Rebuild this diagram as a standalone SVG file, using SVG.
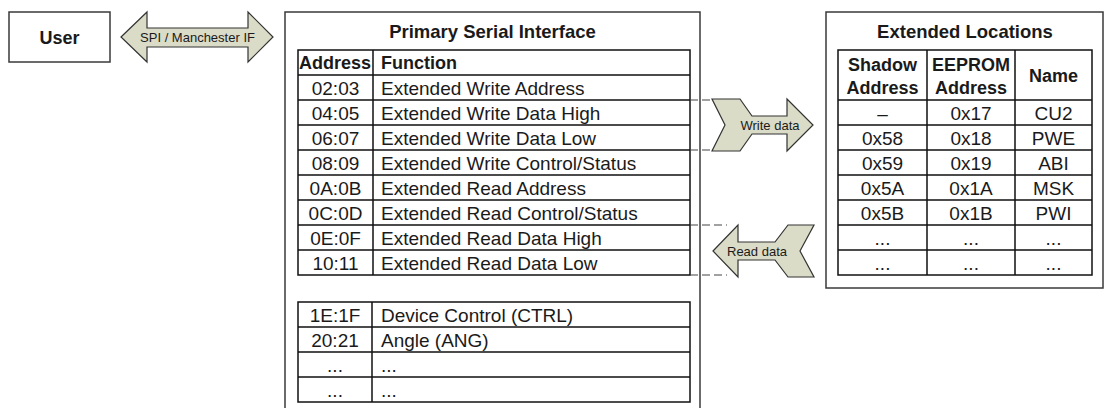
<svg xmlns="http://www.w3.org/2000/svg" width="1104" height="408" viewBox="0 0 1104 408">
<style>
.box{fill:#fff;stroke:#3a3a3a;stroke-width:1.5}
.tbl{fill:none;stroke:#111;stroke-width:1.5}
.ln{stroke:#111;stroke-width:1.5}
.t{font-family:"Liberation Sans",Arial,sans-serif;font-size:19px;fill:#1a1a1a}
.c{text-anchor:middle}
.b{font-weight:bold;font-size:18px}
.arr{fill:#dadcc8;stroke:#333;stroke-width:1.2;stroke-linejoin:miter}
.al{font-family:"Liberation Sans",Arial,sans-serif;font-size:13px;fill:#1a1a1a;text-anchor:middle}
.dash{stroke:#444;stroke-width:1.2;stroke-dasharray:8 4;fill:none}
</style>
<rect width="1104" height="408" fill="#fff"/>
<g id="user">
<rect class="box" x="9" y="12" width="101" height="50"/>
<text class="t b c" x="59.5" y="43.5">User</text>
</g>
<g id="primary-serial-interface">
<rect class="box" x="285" y="12" width="415" height="410"/>
<text class="t b c" x="492.5" y="38" style="font-size:18.5px">Primary Serial Interface</text>
<rect class="tbl" x="298" y="50" width="392" height="225"/>
<line class="ln" x1="373" y1="50" x2="373" y2="275"/>
<path class="ln" d="M298 75H690M298 100H690M298 125H690M298 150H690M298 175H690M298 200H690M298 225H690M298 250H690"/>
<text class="t b" x="299" y="69">Address</text>
<text class="t b" x="381" y="69">Function</text>
<g class="t">
<text class="c" x="335.5" y="94.5">02:03</text><text x="381" y="94.5">Extended Write Address</text>
<text class="c" x="335.5" y="119.5">04:05</text><text x="381" y="119.5">Extended Write Data High</text>
<text class="c" x="335.5" y="144.5">06:07</text><text x="381" y="144.5">Extended Write Data Low</text>
<text class="c" x="335.5" y="169.5">08:09</text><text x="381" y="169.5">Extended Write Control/Status</text>
<text class="c" x="335.5" y="194.5">0A:0B</text><text x="381" y="194.5">Extended Read Address</text>
<text class="c" x="335.5" y="219.5">0C:0D</text><text x="381" y="219.5">Extended Read Control/Status</text>
<text class="c" x="335.5" y="244.5">0E:0F</text><text x="381" y="244.5">Extended Read Data High</text>
<text class="c" x="335.5" y="269.5">10:11</text><text x="381" y="269.5">Extended Read Data Low</text>
</g>
<rect class="tbl" x="298" y="302" width="392" height="100"/>
<line class="ln" x1="372" y1="302" x2="372" y2="402"/>
<path class="ln" d="M298 327H690M298 352H690M298 377H690"/>
<g class="t">
<text class="c" x="335" y="321.5">1E:1F</text><text x="381" y="321.5">Device Control (CTRL)</text>
<text class="c" x="335" y="346.5">20:21</text><text x="381" y="346.5">Angle (ANG)</text>
<text class="c" x="335" y="371.5">...</text><text x="381" y="371.5">...</text>
<text class="c" x="335" y="396.5">...</text><text x="381" y="396.5">...</text>
</g>
</g>
<g id="extended-locations">
<rect class="box" x="826" y="12" width="277" height="276"/>
<text class="t b c" x="965" y="38" style="font-size:18.5px">Extended Locations</text>
<rect class="tbl" x="838" y="50" width="254" height="225"/>
<path class="ln" d="M927 50V275M1015 50V275"/>
<path class="ln" d="M838 100H1092M838 125H1092M838 150H1092M838 175H1092M838 200H1092M838 225H1092M838 250H1092"/>
<text class="t b c" x="882.5" y="71">Shadow</text>
<text class="t b c" x="882.5" y="94">Address</text>
<text class="t b c" x="971" y="71">EEPROM</text>
<text class="t b c" x="971" y="94">Address</text>
<text class="t b c" x="1053.5" y="82">Name</text>
<g class="t c">
<text x="882.5" y="119.5">–</text><text x="971" y="119.5">0x17</text><text x="1053.5" y="119.5">CU2</text>
<text x="882.5" y="144.5">0x58</text><text x="971" y="144.5">0x18</text><text x="1053.5" y="144.5">PWE</text>
<text x="882.5" y="169.5">0x59</text><text x="971" y="169.5">0x19</text><text x="1053.5" y="169.5">ABI</text>
<text x="882.5" y="194.5">0x5A</text><text x="971" y="194.5">0x1A</text><text x="1053.5" y="194.5">MSK</text>
<text x="882.5" y="219.5">0x5B</text><text x="971" y="219.5">0x1B</text><text x="1053.5" y="219.5">PWI</text>
<text x="882.5" y="244.5">...</text><text x="971" y="244.5">...</text><text x="1053.5" y="244.5">...</text>
<text x="882.5" y="269.5">...</text><text x="971" y="269.5">...</text><text x="1053.5" y="269.5">...</text>
</g>
</g>
<g id="connectors">
<g id="spi-link">
<polygon class="arr" points="121,37 147,12 147,28 248,28 248,12 273,37 248,62 248,47 147,47 147,62"/>
<text class="al" x="197.5" y="42">SPI / Manchester IF</text>
</g>
<g id="write-data">
<path class="dash" d="M690 100H712M690 150H712"/>
<polygon class="arr" points="712,99 740,99 752,116 787,116 787,99 813,125 787,151 787,134 752,134 740,151 712,151 725,125"/>
<text class="al" x="770" y="130">Write data</text>
</g>
<g id="read-data">
<path class="dash" d="M690 225H727M690 275H727"/>
<polygon class="arr" points="713,251 738,225 738,242 775,242 788,225 814,225 800,251 814,277 788,277 775,260 738,260 738,277"/>
<text class="al" x="757" y="256">Read data</text>
</g>
</g>
</svg>
